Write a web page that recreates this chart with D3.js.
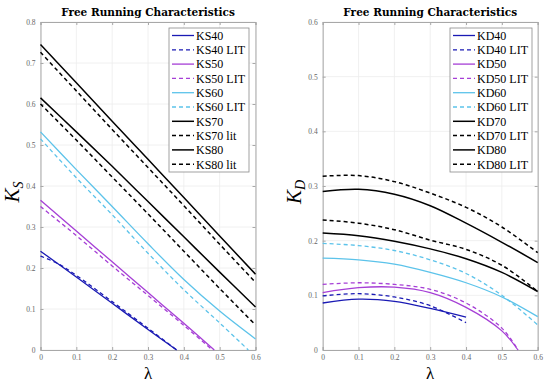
<!DOCTYPE html>
<html>
<head>
<meta charset="utf-8">
<script src="https://cdn.jsdelivr.net/npm/d3@7"></script>
<style>
  body { margin: 0; background: #fff; }
  svg { display: block; }
</style>
</head>
<body>
<svg id="chart" width="550" height="383"></svg>
<script>
// --- data ---
const xTicks = [0, 0.1, 0.2, 0.3, 0.4, 0.5, 0.6]
const ksTicks = [0, 0.1, 0.2, 0.3, 0.4, 0.5, 0.6, 0.7, 0.8]
const kdTicks = [0, 0.1, 0.2, 0.3, 0.4, 0.5, 0.6]

const lam = [0, 0.1, 0.2, 0.3, 0.4, 0.5, 0.6]

// KS (left)
const ks40Lam = [0, 0.1, 0.2, 0.3, 0.38]
const ks40 = [0.241, 0.178, 0.114, 0.050, 0]
const ks40LitLam = [0, 0.05, 0.1, 0.2, 0.3, 0.38]
const ks40Lit = [0.229, 0.210, 0.182, 0.118, 0.053, 0]
const ks50Lam = [0, 0.1, 0.2, 0.3, 0.4, 0.485]
const ks50 = [0.365, 0.290, 0.215, 0.140, 0.065, 0]
const ks50LitLam = [0, 0.1, 0.2, 0.3, 0.4, 0.48]
const ks50Lit = [0.350, 0.279, 0.205, 0.133, 0.060, 0]
const ks60 = [0.532, 0.440, 0.350, 0.259, 0.172, 0.095, 0.027]
const ks60LitLam = [0, 0.1, 0.2, 0.3, 0.4, 0.5, 0.58]
const ks60Lit = [0.515, 0.420, 0.330, 0.236, 0.147, 0.066, 0]
const ks70 = [0.615, 0.532, 0.448, 0.362, 0.276, 0.190, 0.105]
const ks70Lit = [0.600, 0.512, 0.422, 0.332, 0.241, 0.150, 0.061]
const ks80 = [0.745, 0.652, 0.558, 0.465, 0.372, 0.278, 0.185]
const ks80Lit = [0.726, 0.632, 0.538, 0.445, 0.352, 0.258, 0.165]

// KD (right)
const kd40Lam = [0, 0.1, 0.2, 0.3, 0.4]
const kd40 = [0.086, 0.093, 0.089, 0.076, 0.060]
const kd40Lit = [0.099, 0.103, 0.097, 0.081, 0.050]
const kd50Lam = [0, 0.1, 0.2, 0.3, 0.4, 0.5, 0.545]
const kd50 = [0.105, 0.114, 0.115, 0.105, 0.078, 0.035, 0]
const kd50Lit = [0.120, 0.123, 0.120, 0.111, 0.086, 0.040, 0]
const kd60 = [0.168, 0.165, 0.157, 0.142, 0.123, 0.097, 0.061]
const kd60Lit = [0.195, 0.191, 0.182, 0.165, 0.140, 0.100, 0.046]
const kd70 = [0.214, 0.209, 0.199, 0.185, 0.167, 0.142, 0.107]
const kd70Lit = [0.238, 0.232, 0.220, 0.201, 0.184, 0.155, 0.107]
const kd80 = [0.290, 0.294, 0.285, 0.264, 0.232, 0.197, 0.160]
const kd80Lit = [0.318, 0.319, 0.308, 0.287, 0.261, 0.225, 0.178]

const blue = "#1a1ab4", purple = "#a63fd6", cyan = "#5cc3ea", black = "#000"

const ksSeries = [
    {name: "KS40", x: ks40Lam, y: ks40, color: blue, dash: false},
    {name: "KS40 LIT", x: ks40LitLam, y: ks40Lit, color: blue, dash: true},
    {name: "KS50", x: ks50Lam, y: ks50, color: purple, dash: false},
    {name: "KS50 LIT", x: ks50LitLam, y: ks50Lit, color: purple, dash: true},
    {name: "KS60", x: lam, y: ks60, color: cyan, dash: false},
    {name: "KS60 LIT", x: ks60LitLam, y: ks60Lit, color: cyan, dash: true},
    {name: "KS70", x: lam, y: ks70, color: black, dash: false},
    {name: "KS70 lit", x: lam, y: ks70Lit, color: black, dash: true},
    {name: "KS80", x: lam, y: ks80, color: black, dash: false},
    {name: "KS80 lit", x: lam, y: ks80Lit, color: black, dash: true}
]
const kdSeries = [
    {name: "KD40", x: kd40Lam, y: kd40, color: blue, dash: false},
    {name: "KD40 LIT", x: kd40Lam, y: kd40Lit, color: blue, dash: true},
    {name: "KD50", x: kd50Lam, y: kd50, color: purple, dash: false},
    {name: "KD50 LIT", x: kd50Lam, y: kd50Lit, color: purple, dash: true},
    {name: "KD60", x: lam, y: kd60, color: cyan, dash: false},
    {name: "KD60 LIT", x: lam, y: kd60Lit, color: cyan, dash: true},
    {name: "KD70", x: lam, y: kd70, color: black, dash: false},
    {name: "KD70 LIT", x: lam, y: kd70Lit, color: black, dash: true},
    {name: "KD80", x: lam, y: kd80, color: black, dash: false},
    {name: "KD80 LIT", x: lam, y: kd80Lit, color: black, dash: true}
]

const svg = d3.select("#chart")

function drawPanel(opts) {
    const x = d3.scaleLinear().domain([0, 0.6]).range([opts.left, opts.left + 215])
    const y = d3.scaleLinear().domain([0, opts.ymax]).range([350, 22])
    const g = svg.append("g")

    // grid
    g.selectAll(".gx").data(xTicks).join("line")
        .attr("x1", d => x(d)).attr("x2", d => x(d))
        .attr("y1", y(0)).attr("y2", y(opts.ymax))
        .attr("stroke", "#ececec").attr("stroke-width", 0.8)
    g.selectAll(".gy").data(opts.yTicks).join("line")
        .attr("x1", x(0)).attr("x2", x(0.6))
        .attr("y1", d => y(d)).attr("y2", d => y(d))
        .attr("stroke", "#ececec").attr("stroke-width", 0.8)

    // axes (ticks inside, like matlab)
    const axB = g.append("g").attr("transform", `translate(0,${y(0)})`)
        .call(d3.axisBottom(x).tickValues(xTicks).tickSize(-3).tickPadding(5).tickFormat(d3.format("")))
    const axT = g.append("g").attr("transform", `translate(0,${y(opts.ymax)})`)
        .call(d3.axisTop(x).tickValues(xTicks).tickSize(-3).tickFormat(""))
    const axL = g.append("g").attr("transform", `translate(${x(0)},0)`)
        .call(d3.axisLeft(y).tickValues(opts.yTicks).tickSize(-3).tickPadding(5).tickFormat(d3.format("")))
    const axR = g.append("g").attr("transform", `translate(${x(0.6)},0)`)
        .call(d3.axisRight(y).tickValues(opts.yTicks).tickSize(-3).tickFormat(""))
    ;[axB, axT, axL, axR].forEach(a => {
        a.selectAll("path.domain").attr("stroke", "#a8a8a8").attr("stroke-width", 1)
        a.selectAll(".tick line").attr("stroke", "#a8a8a8")
        a.selectAll("text").attr("fill", "#666").style("font-family", "Liberation Serif").style("font-size", "7.5px")
    })

    // curves
    const line = d3.line().x(d => x(d[0])).y(d => y(d[1])).curve(d3.curveCatmullRom.alpha(0.5))
    g.selectAll(".series").data(opts.series).join("path")
        .attr("d", s => line(s.x.map((v, i) => [v, s.y[i]])))
        .attr("fill", "none")
        .attr("stroke", s => s.color)
        .attr("stroke-width", s => s.color === black ? 1.5 : 1.3)
        .attr("stroke-dasharray", s => s.dash ? "4,3" : null)

    // title
    g.append("text")
        .attr("x", x(0.3)).attr("y", 16)
        .attr("text-anchor", "middle")
        .style("font-family", "DejaVu Serif").style("font-weight", "bold").style("font-size", "10.5px")
        .text("Free Running Characteristics")

    // y label
    const yl = g.append("text")
        .attr("transform", `translate(${x(0) - 22},${y(opts.ymax / 2) + 6}) rotate(-90)`)
        .attr("text-anchor", "middle")
        .style("font-family", "Liberation Serif").style("font-style", "italic").style("font-size", "21px")
    yl.append("tspan").text("K")
    yl.append("tspan").attr("dy", 4).style("font-size", "14px").text(opts.sub)

    // x label
    g.append("text")
        .attr("x", x(0.3)).attr("y", 379)
        .attr("text-anchor", "middle")
        .style("font-family", "Liberation Serif").style("font-size", "17px")
        .text("λ")

    // legend
    const lg = g.append("g").attr("transform", `translate(${opts.legX},28)`)
    lg.append("rect").attr("width", opts.legW).attr("height", 144)
        .attr("fill", "#fff").attr("stroke", "#8a8a8a").attr("stroke-width", 0.8)
    const rows = lg.selectAll(".row").data(opts.series).join("g")
        .attr("transform", (d, i) => `translate(0,${7.5 + i * 14.3})`)
    rows.append("line").attr("x1", 3).attr("x2", 25).attr("y1", 0).attr("y2", 0)
        .attr("stroke", d => d.color)
        .attr("stroke-width", d => d.color === black ? 1.5 : 1.3)
        .attr("stroke-dasharray", d => d.dash ? "4,3" : null)
    rows.append("text").attr("x", 27).attr("y", 4.3)
        .style("font-family", "Liberation Serif").style("font-size", "12px")
        .text(d => d.name)
}

drawPanel({left: 40.5, ymax: 0.8, yTicks: ksTicks, series: ksSeries, sub: "S", legX: 169, legW: 80})
drawPanel({left: 322.7, ymax: 0.6, yTicks: kdTicks, series: kdSeries, sub: "D", legX: 450, legW: 82})
</script>
</body>
</html>
